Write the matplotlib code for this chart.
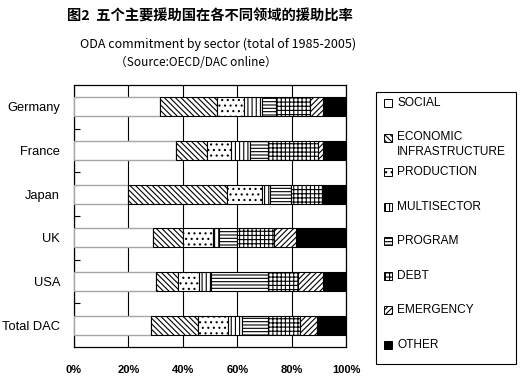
import numpy as np
import matplotlib
matplotlib.use("Agg")
import matplotlib.pyplot as plt
from matplotlib.patches import Rectangle
from matplotlib.ticker import FixedLocator, FuncFormatter

# data (percent shares of ODA commitments, 1985-2005)
countries = ['Germany', 'France', 'Japan', 'UK', 'USA', 'Total DAC']
sectors = ['SOCIAL', 'ECONOMIC\nINFRASTRUCTURE', 'PRODUCTION', 'MULTISECTOR',
           'PROGRAM', 'DEBT', 'EMERGENCY', 'OTHER']
social = [31.8, 37.5, 19.8, 28.9, 30.2, 28.2]
economic = [20.7, 11.3, 36.3, 11.3, 8.2, 17.5]
production = [10.1, 8.8, 13.1, 10.8, 7.7, 11.0]
multisector = [6.4, 7.1, 2.8, 2.4, 4.3, 5.2]
program = [5.2, 6.7, 7.7, 6.6, 21.0, 9.5]
debt = [12.5, 18.4, 11.3, 13.6, 11.0, 11.6]
emergency = [4.7, 1.8, 0.3, 8.2, 9.0, 6.2]
other = [8.6, 8.4, 8.7, 18.2, 8.6, 10.8]
x_ticks = [0, 20, 40, 60, 80, 100]

series = [social, economic, production, multisector, program, debt, emergency, other]
hatches = [None, '\\' * 6, '...', '||||', '-----', '++++', '/' * 6, None]
fills = ['white'] * 7 + ['black']
edges = ['#a6a6a6'] + ['black'] * 7

plt.rcParams['hatch.linewidth'] = 0.8
plt.rcParams['font.family'] = ['Liberation Sans', 'DejaVu Sans']

W, H = 520, 380
fig = plt.figure(figsize=(W / 100, H / 100), dpi=100)


def fx(px):
    return px / W


def fy(py):
    return 1 - py / H


ax = fig.add_axes([fx(74), fy(347), fx(346 - 74), (347 - 85) / H])

y = np.arange(len(countries))
left = np.zeros(len(countries))
for vals, h, fc, ec in zip(series, hatches, fills, edges):
    ax.barh(y, vals, left=left, height=0.43, color=fc, edgecolor=ec,
            hatch=h, linewidth=1.0 if ec != 'black' else 0.8, zorder=3)
    left += np.array(vals)

ax.set_xlim(0, 100)
ax.set_ylim(len(countries) - 0.5, -0.5)
ax.xaxis.set_major_locator(FixedLocator(x_ticks))
ax.xaxis.set_major_formatter(FuncFormatter(lambda v, p: '%d%%' % v))
ax.grid(axis='x', color='black', linewidth=0.8, zorder=0)
ax.set_axisbelow(True)
ax.tick_params(axis='x', length=0, pad=13, labelsize=8)
for t in ax.get_xticklabels():
    t.set_fontweight('bold')
ax.set_yticks(y)
ax.set_yticklabels(countries, fontsize=9.3)
ax.tick_params(axis='y', which='major', length=0, pad=10)
ax.yaxis.set_minor_locator(FixedLocator(np.arange(0.5, len(countries) - 1, 1)))
ax.tick_params(axis='y', which='minor', direction='in', length=4, width=0.8)
for s in ax.spines.values():
    s.set_linewidth(0.9)

# legend box
fig.add_artist(Rectangle((fx(376), fy(364)), fx(516 - 376), (364 - 92) / H,
                         transform=fig.transFigure, fill=False,
                         edgecolor='black', linewidth=0.8))
leg_y = [103, 138, 172, 207, 241.5, 276, 310, 345]
for lab, yy, h, fc in zip(sectors, leg_y, hatches, fills):
    fig.add_artist(Rectangle((fx(384), fy(yy + 4)), fx(8), 8 / H,
                             transform=fig.transFigure, facecolor=fc,
                             edgecolor='black', linewidth=0.7, hatch=h))
    if '\n' in lab:
        fig.text(fx(397), fy(yy - 6.5), lab, va='top', ha='left',
                 fontsize=8.6, linespacing=1.25)
    else:
        fig.text(fx(397), fy(yy), lab, va='center', ha='left', fontsize=8.6)

# titles
fig.text(fx(210), fy(17), '图2  五个主要援助国在各不同领域的援助比率', ha='center',
         va='center', fontsize=10.3, fontweight='bold',
         family=['Noto Sans CJK SC', 'DejaVu Sans'])
fig.text(fx(218), fy(44), 'ODA commitment by sector (total of 1985-2005)',
         ha='center', va='center', fontsize=9.0,
         family=['Noto Sans CJK JP', 'DejaVu Sans'])
fig.text(fx(196), fy(62), '（Source:OECD/DAC online）', ha='center', va='center',
         fontsize=8.5, family=['Noto Sans CJK JP', 'DejaVu Sans'])

fig.savefig('out.png', dpi=100)
